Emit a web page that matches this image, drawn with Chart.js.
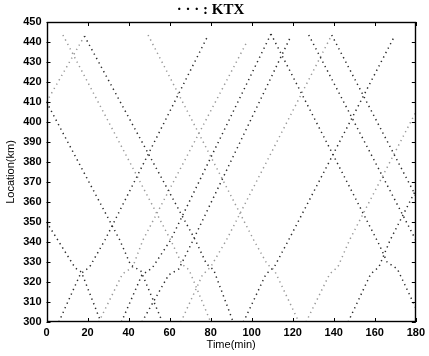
<!DOCTYPE html>
<html>
<head>
<meta charset="utf-8">
<script src="https://cdn.jsdelivr.net/npm/chart.js@4.4.1/dist/chart.umd.min.js"></script>
<style>
  html, body { margin: 0; padding: 0; background: #fff; }
</style>
</head>
<body>
<canvas id="ktxChart" width="429" height="356"></canvas>
<script>
'use strict';

// axis ticks
const timeTicks = [0, 20, 40, 60, 80, 100, 120, 140, 160, 180];
const kmTicks = [300, 310, 320, 330, 340, 350, 360, 370, 380, 390, 400, 410, 420, 430, 440, 450];

// trains heading toward 300 km  [time(min), location(km)]
const downA = [[0, 350], [14, 327], [17, 325], [26.5, 300]];
const downB = [[0, 410], [35.7, 341], [41, 328.5], [46, 325.5], [56.5, 300]];
const downC = [[8, 443.5], [60.5, 341], [66, 329], [69.5, 326], [80, 300]];
const downD = [[18.5, 443], [72.5, 341], [78, 329], [81.5, 326], [91, 300]];
const downE = [[49.5, 443.5], [101, 341], [107.5, 329], [111, 326], [123, 300]];
const downF = [[109.4, 444], [162, 339], [166, 330], [171, 326.5], [180, 307]];
const downG = [[127.8, 443.5], [180, 341]];
const downH = [[139, 443.5], [180, 363]];

// trains heading toward 450 km
const upA = [[0, 410], [18.5, 443]];
const upB = [[6, 300], [16.5, 324], [21, 327.5], [28.5, 341], [78.6, 443]];
const upC = [[25.5, 300], [37, 324], [42, 327.5], [47, 341], [97.4, 439.5]];
const upD = [[36.5, 300], [46.5, 323.5], [51.5, 327], [60.5, 341], [109.4, 444]];
const upE = [[46.5, 300], [59.5, 323.5], [64.5, 326.5], [71, 340], [119, 442.7]];
const upF = [[65.5, 300], [76, 323.5], [80, 327.5], [87.7, 341], [139, 443.5]];
const upG = [[96, 300], [107, 324], [111, 327.5], [118, 341], [169.5, 442.7]];
const upH = [[126.5, 300], [138, 324], [142, 327.5], [147.7, 341], [180, 405]];
const upI = [[147, 300], [158, 324], [162, 327.5], [167.5, 341], [180, 366]];

const darkTrains = [downA, downB, downD, downF, downG, downH, upB, upD, upE, upG, upI];
const lightTrains = [upA, downC, downE, upC, upF, upH];

function trainDataset(points, color) {
    return {
        data: points.map(function(p) { return { x: p[0], y: p[1] }; }),
        showLine: true,
        borderColor: color,
        borderWidth: 1.5,
        borderDash: [1.3, 3.7],
        pointRadius: 0,
        fill: false,
        tension: 0
    };
}

// box around the plot with inward ticks, matlab style
const frameTicks = {
    id: 'frameTicks',
    afterDraw(chart) {
        const ctx = chart.ctx;
        const a = chart.chartArea;
        const x = chart.scales.x;
        const y = chart.scales.y;
        ctx.save();
        ctx.strokeStyle = '#000';
        ctx.lineWidth = 1;
        ctx.beginPath();
        timeTicks.forEach(function(t) {
            const px = Math.round(x.getPixelForValue(t)) + 0.5;
            ctx.moveTo(px, a.bottom); ctx.lineTo(px, a.bottom - 4);
            ctx.moveTo(px, a.top); ctx.lineTo(px, a.top + 4);
        });
        kmTicks.forEach(function(k) {
            const py = Math.round(y.getPixelForValue(k)) + 0.5;
            ctx.moveTo(a.left, py); ctx.lineTo(a.left + 4, py);
            ctx.moveTo(a.right, py); ctx.lineTo(a.right - 4, py);
        });
        ctx.stroke();
        ctx.lineWidth = 1.4;
        ctx.strokeRect(Math.round(a.left) + 0.5, Math.round(a.top) + 0.5,
            Math.round(a.width) - 1, Math.round(a.height) - 1);
        ctx.restore();
    }
};

const tickFont = { family: 'Liberation Sans', size: 11, weight: 'bold' };
const titleFont = { family: 'Liberation Sans', size: 11 };

new Chart(document.getElementById('ktxChart').getContext('2d'), {
    type: 'scatter',
    data: {
        datasets: darkTrains.map(function(t) { return trainDataset(t, '#2b2b2b'); })
            .concat(lightTrains.map(function(t) { return trainDataset(t, '#999999'); }))
    },
    options: {
        responsive: false,
        animation: false,
        layout: { padding: { left: 0, right: 8, top: 0, bottom: 0 } },
        plugins: {
            legend: { display: false },
            tooltip: { enabled: false },
            title: {
                display: true,
                text: '· · · : KTX',
                color: '#000',
                font: { family: 'Liberation Serif', size: 15, weight: 'bold' },
                padding: { top: 1, bottom: 3 }
            }
        },
        scales: {
            x: {
                type: 'linear',
                min: 0,
                max: 180,
                afterBuildTicks: function(scale) {
                    scale.ticks = timeTicks.map(function(v) { return { value: v }; });
                },
                afterFit: function(scale) { scale.height = 34; },
                ticks: { color: '#000', font: tickFont, padding: 4, autoSkip: false, maxRotation: 0 },
                grid: { display: true, drawOnChartArea: false, drawTicks: false },
                border: { display: false },
                title: { display: true, text: 'Time(min)', color: '#000', font: titleFont, padding: { top: 0, bottom: 4 } }
            },
            y: {
                type: 'linear',
                min: 300,
                max: 450,
                afterBuildTicks: function(scale) {
                    scale.ticks = kmTicks.map(function(v) { return { value: v }; });
                },
                afterFit: function(scale) { scale.width = 46.5; },
                ticks: { color: '#000', font: tickFont, padding: 5, autoSkip: false },
                grid: { display: true, drawOnChartArea: false, drawTicks: false },
                border: { display: false },
                title: { display: true, text: 'Location(km)', color: '#000', font: titleFont, padding: { top: 4, bottom: 0 } }
            }
        }
    },
    plugins: [frameTicks]
});
</script>
</body>
</html>
